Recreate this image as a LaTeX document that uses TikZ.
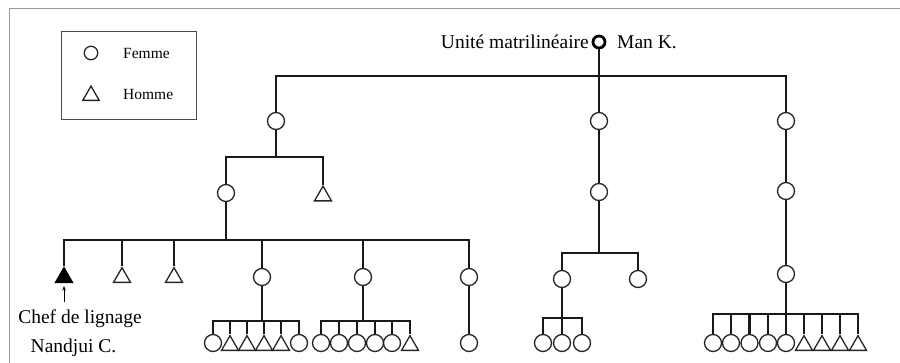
\documentclass[tikz,border=0pt]{standalone}
\usepackage{fontspec}
\setmainfont{Liberation Serif}
\usetikzlibrary{shapes.geometric,arrows.meta}
\tikzset{
  fem/.style={circle,draw=black!85,line width=1.3pt,minimum size=17pt,inner sep=0pt,fill=white},
  hom/.style={regular polygon,regular polygon sides=3,draw=black!85,line width=1.3pt,
              minimum size=19.6pt,inner sep=0pt,anchor=south,fill=white},
  chief/.style={hom,fill=black,draw=black},
  kin/.style={line width=2.1pt,draw=black!90},
  lbl/.style={inner sep=0pt,font=\fontsize{19.5}{22}\selectfont},
  legtxt/.style={inner sep=0pt,font=\fontsize{15.5}{18}\selectfont,anchor=base west},
  pointer/.style={-{Stealth[length=4.5pt,width=3.5pt]},line width=0.7pt},
}
\begin{document}
\begin{tikzpicture}[x=1pt,y=-1pt]
\clip (0,0) rectangle (900,362);
\fill[white] (0,0) rectangle (900,362);
\draw[gray!80,line width=1pt] (9,8) rectangle (920,380);

% legend
\draw[gray!60!black,line width=0.9pt] (61,31) rectangle (196,119);
\node[fem,minimum size=13.5pt] (legF) at (91,53) {};
\node[hom,minimum size=19pt] (legH) at (91,101) {};
\node[legtxt] (legFt) at (123,58) {Femme};
\node[legtxt] (legHt) at (123,99) {Homme};

% matrilineal root
\node[fem,line width=2.8pt,minimum size=12pt,draw=black] (R) at (599,42) {};
\node[lbl,anchor=base east] (ul) at (589,48) {Unité matrilinéaire};
\node[lbl,anchor=base west] (mk) at (617,48) {Man K.};

% first generation
\node[fem] (L1) at (276,121) {};
\node[fem] (M1) at (599,121) {};
\node[fem] (T1) at (786,121) {};
\coordinate (jR) at (R |- 0,76);
\draw[kin] (R) -- (M1);
\draw[kin] (L1.north) |- (jR) -| (T1.north);

% left branch
\node[fem] (L2) at (226,193) {};
\node[hom] (L2h) at (323,201.5) {};
\coordinate (jL1) at (L1 |- 0,157);
\draw[kin] (L1) -- (jL1);
\draw[kin] (L2.north) |- (jL1) -| (L2h.north);

% children of L2
\node[chief] (c0) at (64,283) {};
\node[hom] (c1) at (122,283) {};
\node[hom] (c2) at (174,283) {};
\node[fem] (A) at (262,277) {};
\node[fem] (B) at (363,277) {};
\node[fem] (C) at (469,277) {};
\coordinate (jL2) at (L2 |- 0,240);
\draw[kin] (L2) -- (jL2);
\draw[kin] (c0.north) |- (jL2) -| (C.north);
\foreach \n in {c1,c2,A,B} \draw[kin] (\n.north) -- (\n.north |- jL2);

\node[lbl,anchor=base] (chef) at (80,323) {Chef de lignage};
\node[lbl,anchor=base] (nan) at (73.5,352) {Nandjui C.};
\draw[pointer,shorten <=7pt,shorten >=3pt] (c0 |- chef.north) -- (c0.south);

% children of A
\foreach \x/\n in {213/a1,299/a6} \node[fem] (\n) at (\x,343) {};
\foreach \x/\n in {230/a2,247/a3,264/a4,281/a5} \node[hom] (\n) at (\x,351) {};
\coordinate (jA) at (A |- 0,321);
\draw[kin] (A) -- (jA);
\draw[kin] (a1.north) |- (jA) -| (a6.north);
\foreach \n in {a2,a3,a4,a5} \draw[kin] (\n.north) -- (\n.north |- jA);

% children of B
\foreach \x/\n in {321/b1,339/b2,357/b3,375/b4,392/b5} \node[fem] (\n) at (\x,343) {};
\node[hom] (b6) at (410,351) {};
\coordinate (jB) at (B |- 0,321);
\draw[kin] (B) -- (jB);
\draw[kin] (b1.north) |- (jB) -| (b6.north);
\foreach \n in {b2,b3,b4,b5} \draw[kin] (\n.north) -- (\n.north |- jB);

% child of C
\node[fem] (c7) at (469,343) {};
\draw[kin] (C) -- (c7);

% middle branch
\node[fem] (M2) at (599,192) {};
\draw[kin] (M1) -- (M2);
\node[fem] (M3a) at (562,279) {};
\node[fem] (M3b) at (638,279) {};
\coordinate (jM2) at (M2 |- 0,253);
\draw[kin] (M2) -- (jM2);
\draw[kin] (M3a.north) |- (jM2) -| (M3b.north);
\foreach \x/\n in {543/m1,562/m2,582/m3} \node[fem] (\n) at (\x,343) {};
\coordinate (jM3) at (M3a |- 0,318);
\draw[kin] (M3a) -- (m2);
\draw[kin] (m1.north) |- (jM3) -| (m3.north);

% right branch
\node[fem] (T2) at (786,191) {};
\node[fem] (T3) at (786,274) {};
\draw[kin] (T1) -- (T2);
\draw[kin] (T2) -- (T3);
\foreach \x/\n in {713/r1,731/r2,749.5/r3,768/r4,786/r5} \node[fem] (\n) at (\x,343) {};
\foreach \x/\n in {804/r6,822/r7,840/r8,858/r9} \node[hom] (\n) at (\x,351) {};
\coordinate (jT3) at (T3 |- 0,314);
\draw[kin] (T3) -- (r5);
\draw[kin] (r1.north) |- (jT3) -| (r9.north);
\foreach \n in {r2,r3,r4,r6,r7,r8} \draw[kin] (\n.north) -- (\n.north |- jT3);
\end{tikzpicture}
\end{document}
